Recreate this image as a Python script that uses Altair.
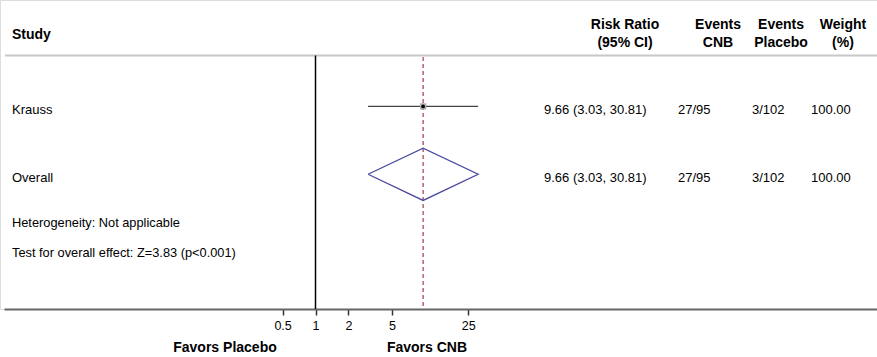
import math
import altair as alt
import pandas as pd

# ---- data -------------------------------------------------------------
studies = ["Krauss", "Overall"]
risk_ratio = [9.66, 9.66]
ci_low = [3.03, 3.03]
ci_high = [30.81, 30.81]
events_cnb = ["27/95", "27/95"]
events_placebo = ["3/102", "3/102"]
weights = [100.00, 100.00]
axis_ticks = [0.5, 1, 2, 5, 25]

FONT = "Liberation Sans"
W, H, BOTTOM = 877, 309, 48

rows = pd.DataFrame({
    "study": studies,
    "row": list(range(len(studies))),
    "rr": risk_ratio,
    "lo": ci_low,
    "hi": ci_high,
    "ci": [f"{r:.2f} ({l:.2f}, {h:.2f})" for r, l, h in zip(risk_ratio, ci_low, ci_high)],
    "cnb": events_cnb,
    "pla": events_placebo,
    "w": [f"{w:.2f}" for w in weights],
})
study_rows = rows.iloc[:-1]
overall = rows.iloc[[-1]]

# diamond outline for the pooled estimate
half = 0.385
o = overall.iloc[0]
diamond = pd.DataFrame({
    "x": [o.lo, o.rr, o.hi, o.rr, o.lo],
    "y": [o.row, o.row - half, o.row, o.row + half, o.row],
    "k": [0, 1, 2, 3, 4],
})

# log-scaled effect axis: 1 sits at x≈315, ~47 px per natural-log unit
px_per_ln, x_one, x_left = 47.45, 315.5, 4
x_scale = alt.Scale(
    type="log",
    domain=[math.exp((x_left - x_one) / px_per_ln), math.exp((W - x_one) / px_per_ln)],
    range=[x_left, W],
    nice=False,
)
y_scale = alt.Scale(domain=[-0.75, 2.985], range=[55.5, H])

base = alt.Chart(rows)

x_axis = alt.Axis(
    values=axis_ticks, format="~g", title=None, grid=False,
    domainColor="#666", domainWidth=2, tickColor="#333", tickWidth=1.5,
    tickSize=6, labelFont=FONT, labelFontSize=12.5, labelColor="black",
    labelPadding=4,
)

# x axis carrier (invisible marks)
axis_layer = alt.Chart(pd.DataFrame({"v": axis_ticks})).mark_point(opacity=0).encode(
    x=alt.X("v:Q", scale=x_scale, axis=x_axis),
    y=alt.value(200),
)

header_rule = alt.Chart(rows.head(1)).mark_rule(color="#c8c8c8", strokeWidth=2).encode(
    x=alt.value(5), x2=alt.value(W), y=alt.value(55.5)
)

null_line = alt.Chart(pd.DataFrame({"v": [1]})).mark_rule(color="black", strokeWidth=1.5).encode(
    x=alt.X("v:Q", scale=x_scale), y=alt.value(55.5), y2=alt.value(H)
)

pooled_line = alt.Chart(overall).mark_rule(
    color="#a33a44", strokeWidth=1.2, strokeDash=[4, 3]
).encode(x=alt.X("rr:Q", scale=x_scale), y=alt.value(57), y2=alt.value(H))

ci_lines = alt.Chart(study_rows).mark_rule(color="#444", strokeWidth=1.3).encode(
    x=alt.X("lo:Q", scale=x_scale), x2="hi:Q",
    y=alt.Y("row:Q", scale=y_scale, axis=None),
)

boxes = alt.Chart(study_rows).mark_square(color="#b0b0b0", opacity=1, size=40).encode(
    x=alt.X("rr:Q", scale=x_scale), y=alt.Y("row:Q", scale=y_scale)
)
dots = alt.Chart(study_rows).mark_circle(color="black", opacity=1, size=14).encode(
    x=alt.X("rr:Q", scale=x_scale), y=alt.Y("row:Q", scale=y_scale)
)

diamond_line = alt.Chart(diamond).mark_line(color="#4a4aa0", strokeWidth=1.3).encode(
    x=alt.X("x:Q", scale=x_scale), y=alt.Y("y:Q", scale=y_scale), order="k:Q"
)


def col_text(field, xpos, align="left"):
    return base.mark_text(font=FONT, fontSize=13, align=align, dy=4, color="black").encode(
        x=alt.value(xpos), y=alt.Y("row:Q", scale=y_scale), text=f"{field}:N"
    )


texts = [
    col_text("study", 12),
    col_text("ci", 544),
    col_text("cnb", 678),
    col_text("pla", 752),
    col_text("w", 811),
]

headers = pd.DataFrame({
    "label": ["Study", "Risk Ratio\n(95% CI)", "Events\nCNB", "Events\nPlacebo", "Weight\n(%)"],
    "xp": [12, 625, 718, 781, 843],
    "al": ["left", "center", "center", "center", "center"],
})
header_layers = []
for _, r in headers.iterrows():
    two = "\n" in r.label
    header_layers.append(
        alt.Chart(pd.DataFrame({"t": [r.label]})).mark_text(
            font=FONT, fontSize=14, fontWeight="bold", align=r.al, baseline="middle",
            lineBreak="\n", lineHeight=18.5, color="black",
        ).encode(x=alt.value(float(r.xp)), y=alt.value(24.5 if two else 35), text="t:N")
    )

notes = pd.DataFrame({
    "t": ["Heterogeneity: Not applicable", "Test for overall effect: Z=3.83 (p<0.001)"],
    "yp": [223, 252.5],
})
note_layer = alt.Chart(notes).mark_text(font=FONT, fontSize=12.8, align="left", color="black").encode(
    x=alt.value(12), y=alt.Y("yp:Q", scale=None), text="t:N"
)

favors = pd.DataFrame({"t": ["Favors Placebo", "Favors CNB"], "xp": [225, 427]})
favors_layer = alt.Chart(favors).mark_text(
    font=FONT, fontSize=14, fontWeight="bold", align="center", color="black"
).encode(x=alt.X("xp:Q", scale=None), y=alt.value(348), text="t:N")

chart = alt.layer(
    axis_layer, header_rule, null_line, pooled_line, ci_lines, boxes, dots,
    diamond_line, *texts, *header_layers, note_layer, favors_layer,
).properties(
    width=W, height=H,
    autosize=alt.AutoSizeParams(type="none"),
    padding={"left": 0, "top": 0, "right": 0, "bottom": BOTTOM},
).configure_view(stroke=None).configure(background="white")

chart.save("out.html", embed_options={"renderer": "svg", "actions": False})
